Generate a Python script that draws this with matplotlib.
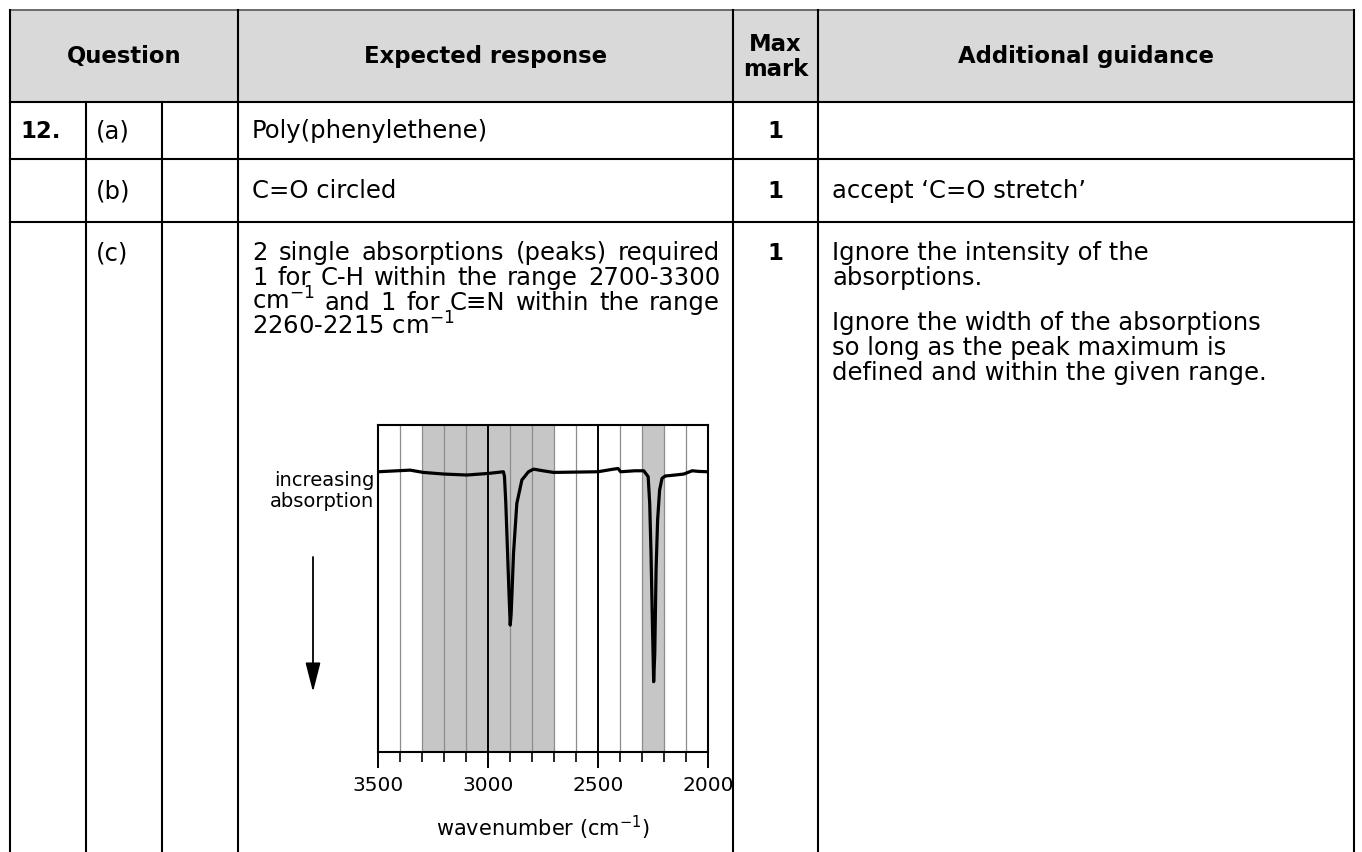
import matplotlib.pyplot as plt
import numpy as np

plt.rcParams['font.family'] = 'DejaVu Sans'

W, H = 1362, 852

# IR spectrum (wavenumber in cm-1, absorption axis 0-100, 100 at top)
wavenumber = [3500, 3354, 3294, 3200, 3096, 2997, 2930, 2925, 2919, 2911, 2904, 2899,
              2895, 2891, 2884, 2869, 2846, 2816, 2793, 2750, 2702, 2600, 2500, 2439,
              2409, 2397, 2333, 2292, 2272, 2265, 2259, 2253, 2247, 2242, 2236, 2229,
              2220, 2209, 2194, 2150, 2110, 2072, 2040, 2000]
absorption = [85.7, 86.2, 85.5, 85.0, 84.7, 85.2, 85.7, 84.2, 76.0, 60.8, 47.5, 38.8,
              42.0, 48.5, 60.8, 76.0, 83.2, 85.7, 86.5, 86.0, 85.5, 85.6, 85.7, 86.4,
              86.7, 85.7, 86.0, 86.0, 84.2, 76.0, 60.8, 40.4, 21.5, 30.1, 55.7, 71.0,
              80.1, 83.7, 84.4, 84.7, 85.0, 86.0, 85.8, 85.7]
shaded = [(3300, 2700), (2300, 2200)]
major_ticks = [3500, 3000, 2500, 2000]
minor_ticks = list(range(2000, 3501, 100))

header = ['Question', 'Expected response', 'Max\nmark', 'Additional guidance']
question = ['12.', '', '']
parts = ['(a)', '(b)', '(c)']
responses_ab = ['Poly(phenylethene)', 'C=O circled']
marks = ['1', '1', '1']
guidance_b = 'accept \u2018C=O stretch\u2019'
response_c = [['2', 'single', 'absorptions', '(peaks)', 'required'],
              ['1', 'for', 'C-H', 'within', 'the', 'range', '2700-3300'],
              [r'cm$^{-1}$', 'and', '1', 'for', 'C\u2261N', 'within', 'the', 'range']]
response_c_last = r'2260-2215 cm$^{-1}$'
guidance_c = ['Ignore the intensity of the', 'absorptions.', '',
              'Ignore the width of the absorptions', 'so long as the peak maximum is',
              'defined and within the given range.']

# table layout in pixels
col_x = [10, 86, 162, 238, 733, 818, 1354]
row_y = [10, 102, 159, 222]
fs = 17.5
fs_head = 16.4
lw = 1.5

fig = plt.figure(figsize=(W / 100, H / 100), dpi=100, facecolor='w')
bg = fig.add_axes([0, 0, 1, 1])
bg.set_xlim(0, W)
bg.set_ylim(H, 0)
bg.axis('off')

bg.add_patch(plt.Rectangle((col_x[0], row_y[0]), col_x[-1] - col_x[0], row_y[1] - row_y[0],
                           color='#d9d9d9', lw=0))
bg.plot([col_x[0], col_x[-1]], [row_y[0], row_y[0]], color='#555555', lw=1.2)
for y in row_y[1:]:
    bg.plot([col_x[0], col_x[-1]], [y, y], color='k', lw=lw, solid_capstyle='projecting')
for x in [col_x[0], col_x[3], col_x[4], col_x[5], col_x[6]]:
    bg.plot([x, x], [row_y[0], H], color='k', lw=lw, solid_capstyle='projecting')
for x in [col_x[1], col_x[2]]:
    bg.plot([x, x], [row_y[1], H], color='k', lw=lw)

# header
bg.text((col_x[0] + col_x[3]) / 2, 57, header[0], ha='center', va='center', fontsize=fs_head, weight='bold')
bg.text((col_x[3] + col_x[4]) / 2, 57, header[1], ha='center', va='center', fontsize=fs_head, weight='bold')
bg.text((col_x[4] + col_x[5]) / 2, 57, header[2], ha='center', va='center', fontsize=fs_head,
        weight='bold', linespacing=1.15)
bg.text((col_x[5] + col_x[6]) / 2, 57, header[3], ha='center', va='center', fontsize=fs_head, weight='bold')

base = [138, 198, 260]
for i in range(3):
    bg.text(20, base[i], question[i], fontsize=fs_head, weight='bold', va='baseline')
    bg.text(96, base[i], parts[i], fontsize=fs, va='baseline')
    bg.text((col_x[4] + col_x[5]) / 2, base[i], marks[i], fontsize=fs_head, weight='bold',
            ha='center', va='baseline')
for i in range(2):
    bg.text(252, base[i], responses_ab[i], fontsize=fs, va='baseline')
bg.text(832, base[1], guidance_b, fontsize=fs, va='baseline')

# justified lines of the expected response
renderer = fig.canvas.get_renderer()
x0, x1 = 252, 720
for j, words in enumerate(response_c):
    y = base[2] + 25 * j
    texts = [bg.text(0, y, w, fontsize=fs, va='baseline') for w in words]
    widths = [t.get_window_extent(renderer).width for t in texts]
    gap = (x1 - x0 - sum(widths)) / (len(words) - 1)
    x = x0
    for t, wd in zip(texts, widths):
        t.set_x(x)
        x += wd + gap
bg.text(x0, base[2] + 75, response_c_last, fontsize=fs, va='baseline')

gy = [260, 285, 0, 330, 355, 380]
for line, y in zip(guidance_c, gy):
    if line:
        bg.text(832, y, line, fontsize=fs, va='baseline')

# spectrum
ax = fig.add_axes([378 / W, (H - 752) / H, 330 / W, 327 / H])
for lo, hi in shaded:
    ax.axvspan(lo, hi, color='#c6c6c6', lw=0, zorder=0)
for t in minor_ticks:
    if t in major_ticks:
        ax.axvline(t, color='k', lw=1.4, zorder=1)
    else:
        ax.axvline(t, color='#8c8c8c', lw=0.9, zorder=1)
ax.plot(wavenumber, absorption, color='k', lw=2.3, zorder=3)
ax.set_xlim(3500, 2000)
ax.set_ylim(0, 100)
ax.set_yticks([])
ax.set_xticks(major_ticks)
ax.set_xticks(minor_ticks, minor=True)
ax.tick_params(axis='x', which='major', length=11.5, width=1.4, labelsize=14.5, pad=6)
ax.tick_params(axis='x', which='minor', length=7, width=1.2)
for s in ax.spines.values():
    s.set_linewidth(1.5)
ax.set_xlabel(r'wavenumber (cm$^{-1}$)', fontsize=15, labelpad=13)

bg.text(374, 491, 'increasing\nabsorption', ha='right', va='center', fontsize=14, linespacing=1.1)
bg.annotate('', xy=(313, 692), xytext=(313, 557),
            arrowprops=dict(arrowstyle='-|>,head_width=0.23,head_length=0.9', color='k',
                            lw=1.3, mutation_scale=20, shrinkA=0, shrinkB=0))

fig.savefig('out.png', dpi=100)
